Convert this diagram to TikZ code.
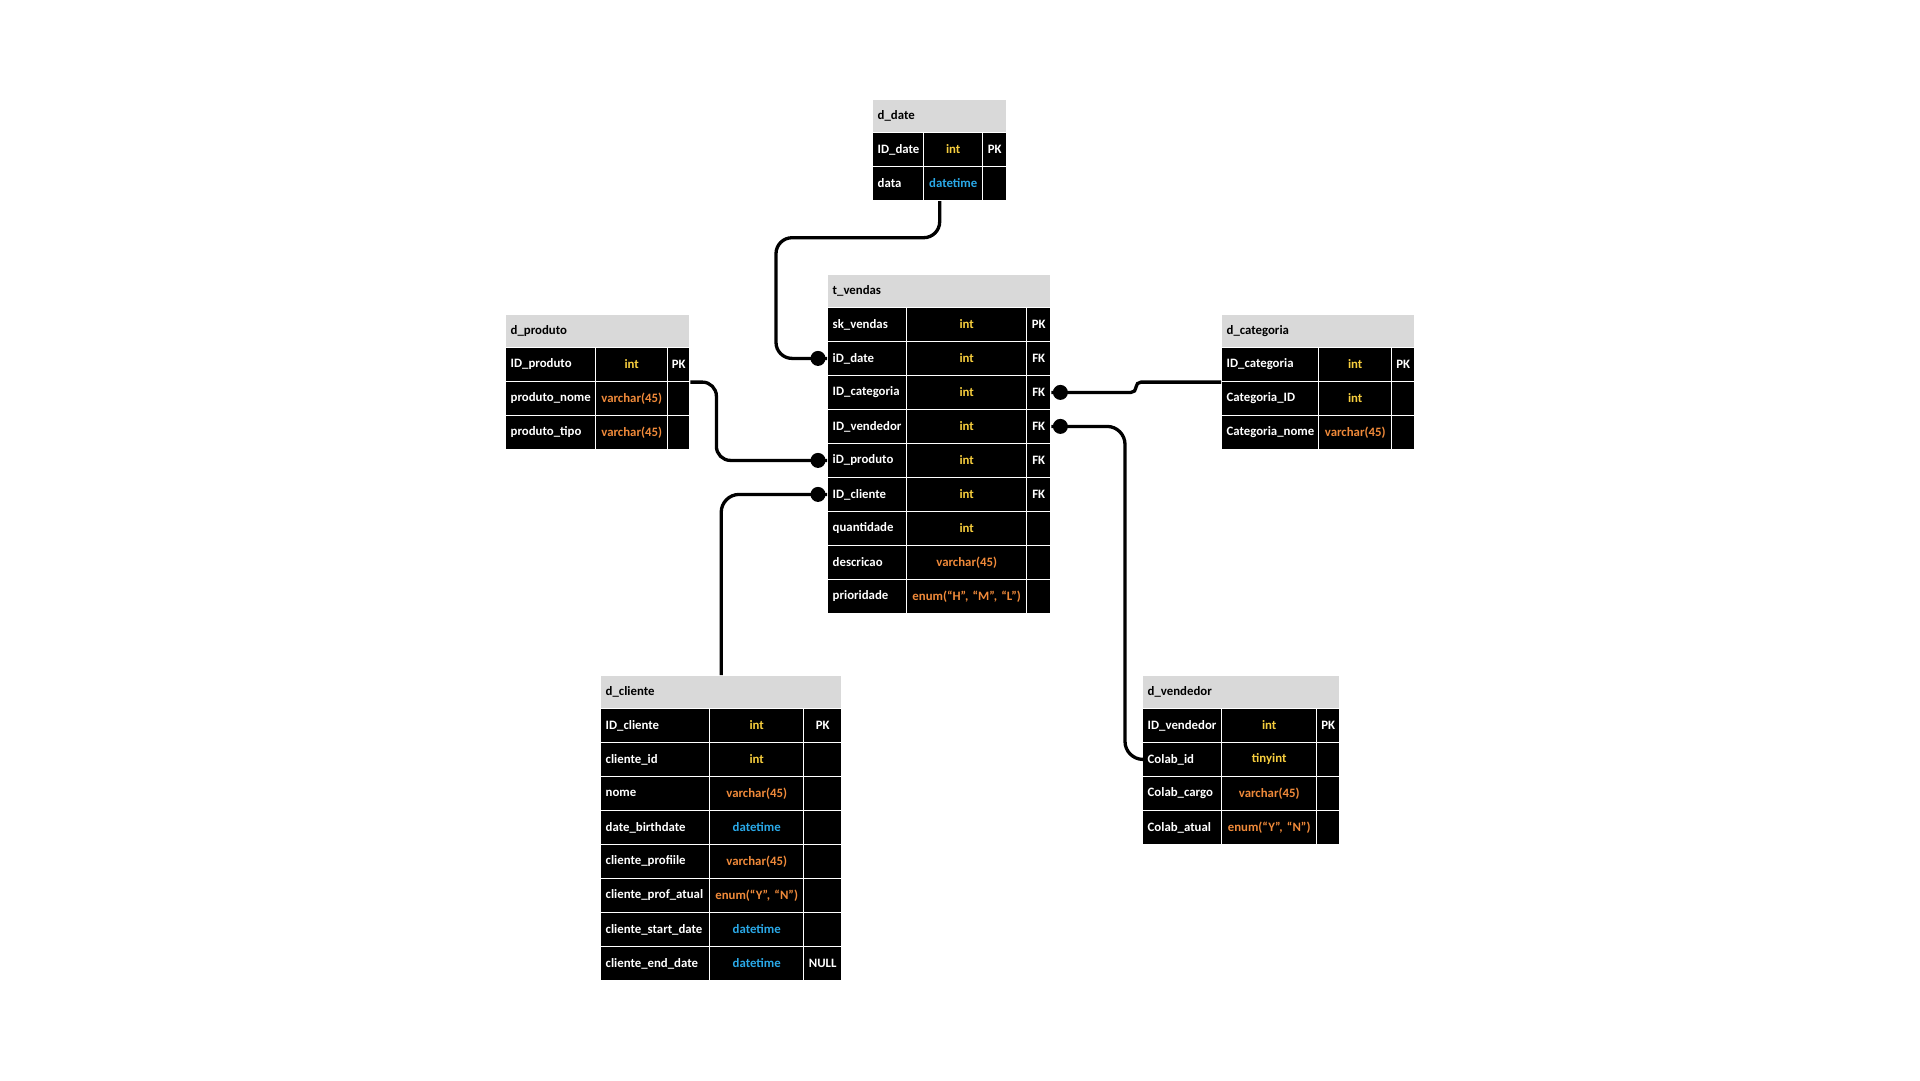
\documentclass[tikz,border=0pt]{standalone}
\usepackage{fontspec}
\setmainfont{Carlito}
\usetikzlibrary{calc}

\definecolor{hdrgray}{HTML}{D9D9D9}
\definecolor{intc}{HTML}{F7CE3E}
\definecolor{charc}{HTML}{F08A3A}
\definecolor{datec}{HTML}{2AA9E8}

% current table: column borders and top edge
\newcommand\ertable[6]{\def\tname{#1}\def\ta{#2}\def\tb{#3}\def\tc{#4}\def\td{#5}\def\ttop{#6}}
% header bar
\newcommand\erhead[1]{%
  \node[hdrcell, text width={(\td-\ta-10)*1pt}] (\tname-h) at (\ta,\ttop) {#1};}
% one row: index, field, type, type colour, key
\newcommand\errow[5]{%
  \node[cell, text width={(\tb-\ta-10)*1pt}, align=left]
    (\tname-#1-f) at (\ta,{\ttop+32.7+(#1-1)*34}) {#2};
  \node[cell, text width={(\tc-\tb-4)*1pt}, inner xsep=2pt, align=center, text=#4]
    (\tname-#1-t) at (\tb,{\ttop+32.7+(#1-1)*34}) {#3};
  \node[cell, text width={(\td-\tc-2)*1pt}, inner xsep=1pt, align=center]
    (\tname-#1-k) at (\tc,{\ttop+32.7+(#1-1)*34}) {#5};}

\tikzset{
  basecell/.style={anchor=north west, draw=white, line width=1.4pt,
    inner xsep=5pt, inner ysep=0pt,
    font=\fontsize{12.8pt}{15pt}\selectfont\bfseries},
  hdrcell/.style={basecell, fill=hdrgray, text=black, align=left, minimum height=32.7pt},
  cell/.style={basecell, fill=black, text=white, minimum height=34pt},
  link/.style={draw=black, line width=3.3pt},
  dot/.style={circle, fill=black, minimum size=15pt, inner sep=0pt}
}

\begin{document}
\begin{tikzpicture}[x=1pt, y=-1pt]
\useasboundingbox[fill=white] (0,0) rectangle (1920,1080);

% d_date
\ertable{dd}{872}{923}{982}{1006}{99}
\erhead{d\_date}
\errow{1}{ID\_date}{int}{intc}{PK}
\errow{2}{data}{datetime}{datec}{}

% t_vendas
\ertable{tv}{827}{906}{1026}{1050}{274}
\erhead{t\_vendas}
\errow{1}{sk\_vendas}{int}{intc}{PK}
\errow{2}{iD\_date}{int}{intc}{FK}
\errow{3}{ID\_categoria}{int}{intc}{FK}
\errow{4}{ID\_vendedor}{int}{intc}{FK}
\errow{5}{iD\_produto}{int}{intc}{FK}
\errow{6}{ID\_cliente}{int}{intc}{FK}
\errow{7}{quantidade}{int}{intc}{}
\errow{8}{descricao}{varchar(45)}{charc}{}
\errow{9}{prioridade}{enum(“H”, “M”, “L”)}{charc}{}

% d_produto
\ertable{dp}{505}{595}{667}{689}{314}
\erhead{d\_produto}
\errow{1}{ID\_produto}{int}{intc}{PK}
\errow{2}{produto\_nome}{varchar(45)}{charc}{}
\errow{3}{produto\_tipo}{varchar(45)}{charc}{}

% d_categoria
\ertable{dc}{1221}{1318}{1391}{1414}{314}
\erhead{d\_categoria}
\errow{1}{ID\_categoria}{int}{intc}{PK}
\errow{2}{Categoria\_ID}{int}{intc}{}
\errow{3}{Categoria\_nome}{varchar(45)}{charc}{}

% d_cliente
\ertable{dl}{600}{709}{803}{841}{675}
\erhead{d\_cliente}
\errow{1}{ID\_cliente}{int}{intc}{PK}
\errow{2}{cliente\_id}{int}{intc}{}
\errow{3}{nome}{varchar(45)}{charc}{}
\errow{4}{date\_birthdate}{datetime}{datec}{}
\errow{5}{cliente\_profiile}{varchar(45)}{charc}{}
\errow{6}{cliente\_prof\_atual}{enum(“Y”, “N”)}{charc}{}
\errow{7}{cliente\_start\_date}{datetime}{datec}{}
\errow{8}{cliente\_end\_date}{datetime}{datec}{NULL}

% d_vendedor
\ertable{dv}{1142}{1221}{1316}{1339}{675}
\erhead{d\_vendedor}
\errow{1}{ID\_vendedor}{int}{intc}{PK}
\errow{2}{Colab\_id}{tinyint}{intc}{}
\errow{3}{Colab\_cargo}{varchar(45)}{charc}{}
\errow{4}{Colab\_atual}{enum(“Y”, “N”)}{charc}{}

% bend points of the connectors
\coordinate (bendA) at (776,237.7);

% connectors
\draw[link, rounded corners=16pt] (dd-h.center |- dd-2-t.south) |- (bendA) |- (tv-2-f.west);
\draw[link, rounded corners=14pt] (dp-1-k.south east) -- ++(26,0) |- (tv-5-f.west);
\draw[link, rounded corners=18pt] (dl-h.north) |- (tv-6-f.west);
\draw[link, rounded corners=5pt] (tv-3-k.east) -| ([xshift=-85pt]dc-1-f.south west) -- (dc-1-f.south west);
\draw[link, rounded corners=18pt] (tv-4-k.east) -| ([xshift=-17pt]dv-2-f.west) -- (dv-2-f.west);

% end dots on t_vendas
\node[dot] (dotA) at ([xshift=-9pt]tv-2-f.west) {};
\node[dot] (dotB) at ([xshift=-9pt]tv-5-f.west) {};
\node[dot] (dotC) at ([xshift=-9pt]tv-6-f.west) {};
\node[dot] (dotD) at ([xshift=9pt]tv-3-k.east) {};
\node[dot] (dotE) at ([xshift=9pt]tv-4-k.east) {};
\end{tikzpicture}
\end{document}
